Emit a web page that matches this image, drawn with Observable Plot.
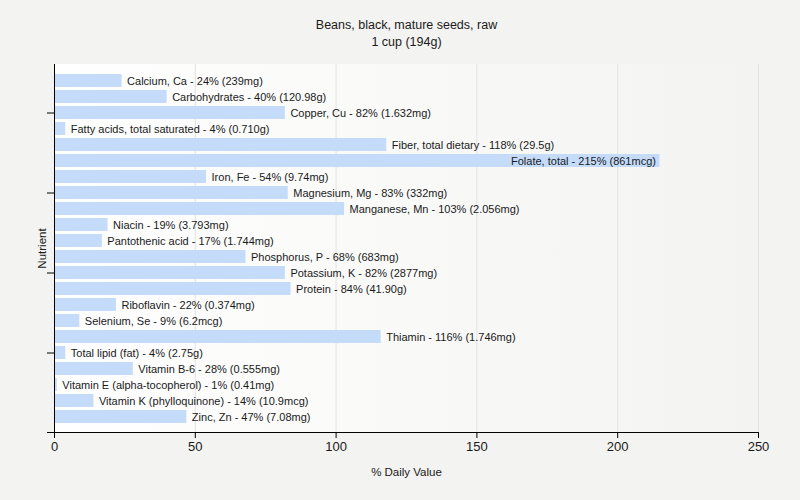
<!DOCTYPE html>
<html>
<head>
<meta charset="utf-8">
<script src="https://cdn.jsdelivr.net/npm/d3@7"></script>
<script src="https://cdn.jsdelivr.net/npm/@observablehq/plot@0.6"></script>
<style>
  html, body { margin: 0; padding: 0; background: #f3f3f1; }
  #chart svg { display: block; }
</style>
</head>
<body>
<div id="chart"></div>
<script>
const title = "Beans, black, mature seeds, raw";
const subtitle = "1 cup (194g)";
const xLabel = "% Daily Value";
const yLabel = "Nutrient";
const nutrients = [
  "Calcium, Ca", "Carbohydrates", "Copper, Cu", "Fatty acids, total saturated",
  "Fiber, total dietary", "Folate, total", "Iron, Fe", "Magnesium, Mg",
  "Manganese, Mn", "Niacin", "Pantothenic acid", "Phosphorus, P",
  "Potassium, K", "Protein", "Riboflavin", "Selenium, Se", "Thiamin",
  "Total lipid (fat)", "Vitamin B-6", "Vitamin E (alpha-tocopherol)",
  "Vitamin K (phylloquinone)", "Zinc, Zn"
];
const percents = [24, 40, 82, 4, 118, 215, 54, 83, 103, 19, 17, 68, 82, 84, 22, 9, 116, 4, 28, 1, 14, 47];
const amounts = [
  "239mg", "120.98g", "1.632mg", "0.710g", "29.5g", "861mcg", "9.74mg", "332mg",
  "2.056mg", "3.793mg", "1.744mg", "683mg", "2877mg", "41.90g", "0.374mg", "6.2mcg",
  "1.746mg", "2.75g", "0.555mg", "0.41mg", "10.9mcg", "7.08mg"
];
const xTicks = [0, 50, 100, 150, 200, 250];
const yTickRows = ["Copper, Cu", "Magnesium, Mg", "Potassium, K", "Total lipid (fat)"];

const data = nutrients.map((n, i) => ({
  name: n, value: percents[i],
  label: `${n} - ${percents[i]}% (${amounts[i]})`,
  inside: percents[i] > 200
}));

const W = 800, H = 500, ML = 54, MR = 42, MT = 64, MB = 68;
const ns = "http://www.w3.org/2000/svg";

const gradientMark = () => {
  const g = document.createElementNS(ns, "g");
  const defs = document.createElementNS(ns, "defs");
  const lg = document.createElementNS(ns, "linearGradient");
  lg.setAttribute("id", "plotbg");
  lg.setAttribute("x1", "0"); lg.setAttribute("x2", "1");
  lg.setAttribute("y1", "0"); lg.setAttribute("y2", "0");
  [["0", "#ffffff"], ["1", "#f3f3f1"]].forEach(([o, c]) => {
    const s = document.createElementNS(ns, "stop");
    s.setAttribute("offset", o); s.setAttribute("stop-color", c);
    lg.appendChild(s);
  });
  defs.appendChild(lg);
  g.appendChild(defs);
  const r = document.createElementNS(ns, "rect");
  r.setAttribute("x", ML); r.setAttribute("y", MT);
  r.setAttribute("width", W - ML - MR); r.setAttribute("height", H - MT - MB);
  r.setAttribute("fill", "url(#plotbg)");
  g.appendChild(r);
  return g;
};

// bottom axis line, extending a few pixels left of the y axis
const bottomLine = (index, scales, values, dims) => {
  const l = document.createElementNS(ns, "line");
  const y = dims.height - dims.marginBottom + 0.5;
  l.setAttribute("x1", dims.marginLeft - 7);
  l.setAttribute("x2", dims.width - dims.marginRight);
  l.setAttribute("y1", y); l.setAttribute("y2", y);
  l.setAttribute("stroke", "#000");
  return l;
};

const chart = Plot.plot({
  width: W, height: H,
  marginLeft: ML, marginRight: MR, marginTop: MT, marginBottom: MB,
  style: { background: "#f3f3f1", fontFamily: "'Liberation Sans', Arial, sans-serif", fontSize: "11px", color: "#1a1a1a" },
  x: { domain: [0, 250] },
  y: { type: "band", domain: nutrients, range: [71, 425], paddingInner: 0.19, paddingOuter: 0.095 },
  marks: [
    gradientMark,
    Plot.ruleX(xTicks.slice(1), { stroke: "#e2e2e2", strokeWidth: 1 }),
    Plot.barX(data, { x: "value", y: "name", fill: "#c4dcfa" }),
    Plot.text(data.filter(d => !d.inside), { x: "value", y: "name", text: "label", textAnchor: "start", dx: 5, fill: "#1a1a1a", fontSize: 11 }),
    Plot.text(data.filter(d => d.inside), { x: "value", y: "name", text: "label", textAnchor: "end", dx: -4, fill: "#1a1a1a", fontSize: 11 }),
    Plot.ruleX([0], { stroke: "#000", strokeWidth: 1 }),
    bottomLine,
    Plot.axisX({ ticks: xTicks, tickSize: 6, tickFormat: d => d, fontSize: 13, label: null, fill: "#1a1a1a", stroke: "#000", tickPadding: 3 }),
    Plot.axisY({ ticks: yTickRows, tickSize: 7, tickFormat: () => "", label: null, stroke: "#000" }),
    Plot.text([xLabel], { frameAnchor: "bottom", dy: 43, fontSize: 11.5, fill: "#1a1a1a" }),
    Plot.text([yLabel], { frameAnchor: "left", dx: -12, rotate: -90, textAnchor: "middle", fontSize: 11.5, fill: "#1a1a1a" }),
    Plot.text([title], { frameAnchor: "top", dy: -44, fontSize: 12.5, fill: "#1a1a1a" }),
    Plot.text([subtitle], { frameAnchor: "top", dy: -27, fontSize: 12.5, fill: "#1a1a1a" })
  ]
});
document.getElementById("chart").appendChild(chart);
</script>
</body>
</html>
